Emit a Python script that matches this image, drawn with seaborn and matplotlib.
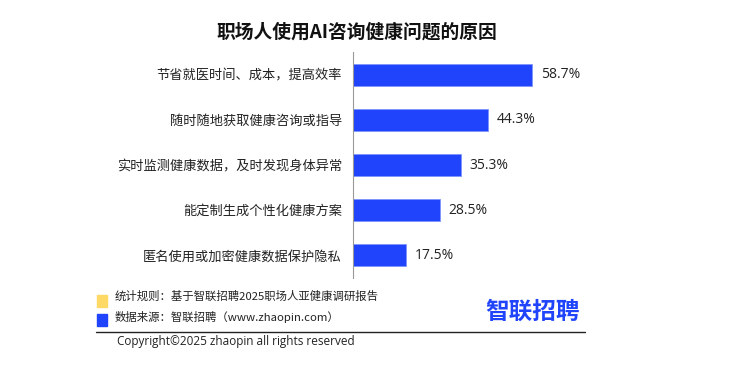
import matplotlib
matplotlib.use("Agg")
import matplotlib.pyplot as plt
import seaborn as sns
import pandas as pd
import numpy as np

# data
reasons = ["节省就医时间、成本，提高效率", "随时随地获取健康咨询或指导",
           "实时监测健康数据，及时发现身体异常", "能定制生成个性化健康方案",
           "匿名使用或加密健康数据保护隐私"]
shares = [58.7, 44.3, 35.3, 28.5, 17.5]

title = "职场人使用AI咨询健康问题的原因"
note_rule = "统计规则：基于智联招聘2025职场人亚健康调研报告"
note_source = "数据来源：智联招聘（www.zhaopin.com）"
copyright_txt = "Copyright©2025 zhaopin all rights reserved"

sns.set_style("white")
plt.rcParams['font.family'] = ['Noto Sans CJK SC', 'DejaVu Sans']

df = pd.DataFrame({"reason": reasons, "share": shares})

fig = plt.figure(figsize=(7.52, 3.78), dpi=100)
ax = fig.add_axes([353 / 752, 1 - 278 / 378, 183 / 752, 226 / 378])

sns.barplot(data=df, y="reason", x="share", color="#1f44fb", saturation=1,
            width=0.49, ax=ax, edgecolor="#7f95fd", linewidth=0.6)
ax.set_xlim(0, 60)
ax.set_xlabel("")
ax.set_ylabel("")
ax.set_xticks([])
ax.tick_params(axis="y", which="major", length=0, labelsize=9.5, pad=8,
               labelcolor="#222222")
ax.set_yticks(np.arange(len(reasons) - 1) + 0.5, minor=True)
ax.tick_params(axis="y", which="minor", length=4, color="#999999", width=1)
for s in ["top", "right", "bottom"]:
    ax.spines[s].set_visible(False)
ax.spines["left"].set_color("#999999")

for i, v in enumerate(shares):
    ax.text(v + 2.9, i, f"{v}%", va="center", ha="left", fontsize=10,
            color="#222222", family=['Open Sans', 'DejaVu Sans'])

fig.text(357 / 752, 1 - 32 / 378, title, ha="center", va="center",
         fontsize=13.5, fontweight="bold", color="#111111")

# footer
fig.patches.append(plt.Rectangle((97 / 752, 1 - 307 / 378), 10 / 752, 12 / 378,
                                 transform=fig.transFigure, color="#ffd966"))
fig.patches.append(plt.Rectangle((97 / 752, 1 - 326 / 378), 10 / 752, 12 / 378,
                                 transform=fig.transFigure, color="#1f44fb"))
fig.text(115 / 752, 1 - 296 / 378, note_rule, ha="left", va="center",
         fontsize=8.2, color="#222222")
fig.text(115 / 752, 1 - 317 / 378, note_source, ha="left", va="center",
         fontsize=8.2, color="#222222")
fig.add_artist(plt.Line2D([96 / 752, 585 / 752], [1 - 332 / 378, 1 - 332 / 378],
                          transform=fig.transFigure, color="#222222", lw=1))
fig.text(117 / 752, 1 - 342 / 378, copyright_txt, ha="left", va="center",
         fontsize=8.5, color="#222222", family=['Open Sans', 'DejaVu Sans'])
fig.text(533 / 752, 1 - 312 / 378, "智联招聘", ha="center", va="center",
         fontsize=17, fontweight="bold", color="#1f44fb")

fig.savefig("out.png", dpi=100)
